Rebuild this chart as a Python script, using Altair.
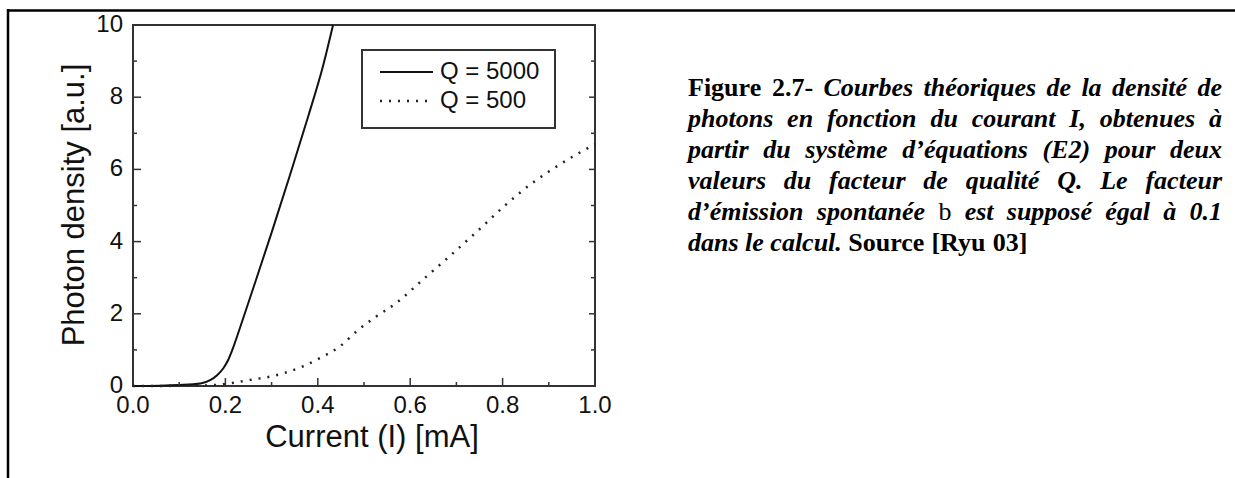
import altair as alt
import pandas as pd

# ---------------- data ----------------
x_q5000 = [0.0, 0.10, 0.146, 0.168, 0.182, 0.196, 0.206, 0.215, 0.23, 0.26, 0.30, 0.34, 0.38, 0.41, 0.433]
y_q5000 = [0.0, 0.03, 0.07, 0.17, 0.30, 0.50, 0.72, 1.0, 1.55, 2.7, 4.25, 5.85, 7.5, 8.8, 10.0]
x_q500 = [0.0, 0.15, 0.196, 0.254, 0.297, 0.325, 0.365, 0.404, 0.447, 0.487, 0.526, 0.569, 0.627, 0.684, 0.748, 0.806, 0.863, 0.928, 1.0]
y_q500 = [0.0, 0.01, 0.05, 0.17, 0.26, 0.35, 0.53, 0.77, 1.09, 1.55, 1.92, 2.29, 2.94, 3.58, 4.32, 5.01, 5.61, 6.17, 6.70]
series_names = ["Q = 5000", "Q = 500"]

x_labels = [0.0, 0.2, 0.4, 0.6, 0.8, 1.0]
y_labels = [0, 2, 4, 6, 8, 10]
x_minor = [0.1, 0.3, 0.5, 0.7, 0.9]
x_major = [0.2, 0.4, 0.6, 0.8]
y_minor = [1, 3, 5, 7, 9]
y_major = [2, 4, 6, 8]
x_title = "Current (I) [mA]"
y_title = "Photon density [a.u.]"

caption_lines = [
    [("Figure 2.7-", "b"), ("Courbes théoriques de la densité de", "bi")],
    [("photons en fonction du courant I, obtenues à", "bi")],
    [("partir du système d’équations (E2) pour deux", "bi")],
    [("valeurs du facteur de qualité Q. Le facteur", "bi")],
    [("d’émission spontanée", "bi"), ("b", "r"), ("est supposé égal à 0.1", "bi")],
    [("dans le calcul.", "bi"), ("Source [Ryu 03]", "b")],
]

# ---------------- layout ----------------
W, H = 462, 361
PAD_L, PAD_T = 133, 25
TOTAL_W, TOTAL_H = 1235, 478
SANS = "Liberation Sans"
INK = "#111"

xs = alt.Scale(domain=[0, 1], nice=False, zero=False)
ys = alt.Scale(domain=[0, 10], nice=False, zero=False)

# ---------------- caption word placement (justified) ----------------
CAP_FS = 26
CAP_LEFT = 688 - PAD_L
CAP_RIGHT = 1222 - PAD_L
CAP_Y0 = 88 - PAD_T
CAP_DY = 31

BI = {'a': 500, 'b': 500, 'c': 444, 'd': 500, 'e': 444, 'f': 333, 'g': 500, 'h': 556, 'i': 278,
      'j': 278, 'k': 500, 'l': 278, 'm': 778, 'n': 556, 'o': 500, 'p': 500, 'q': 500, 'r': 389,
      's': 389, 't': 278, 'u': 556, 'v': 444, 'w': 667, 'x': 500, 'y': 444, 'z': 389, 'é': 444,
      'è': 444, 'à': 500, '’': 333, '(': 333, ')': 333, '.': 250, ',': 250, 'E': 667, 'I': 389,
      'L': 611, 'Q': 722, 'C': 667}
B = {'F': 611, 'i': 278, 'g': 500, 'u': 556, 'r': 444, 'e': 444, '.': 250, '-': 333, 'S': 556,
     'o': 500, 'c': 444, '[': 333, 'R': 722, 'y': 500, ']': 333}
R = {'b': 500}
TABLES = {"bi": BI, "b": B, "r": R}


def word_w(word, style):
    t = TABLES[style]
    return sum(t.get(ch, 500) for ch in word) * CAP_FS / 1000.0


rows = []
for li, segs in enumerate(caption_lines):
    words = []
    for text, style in segs:
        for w in text.split(" "):
            words.append((w, style))
    widths = [word_w(w, s) for w, s in words]
    if li < len(caption_lines) - 1:
        gap = (CAP_RIGHT - CAP_LEFT - sum(widths)) / (len(words) - 1)
    else:
        gap = 250 * CAP_FS / 1000.0
    x = CAP_LEFT
    for (w, s), ww in zip(words, widths):
        rows.append({"px": x, "py": CAP_Y0 + li * CAP_DY, "word": w, "style": s})
        x += ww + gap
cap_df = pd.DataFrame(rows)

# ---------------- curves ----------------
curve_df = pd.concat([
    pd.DataFrame({"I": x_q5000, "P": y_q5000, "series": series_names[0], "o": range(len(x_q5000))}),
    pd.DataFrame({"I": x_q500, "P": y_q500, "series": series_names[1], "o": range(len(x_q500))}),
])

base = alt.Chart(curve_df)

solid = base.transform_filter(alt.datum.series == series_names[0]).mark_line(
    color=INK, strokeWidth=2, interpolate="monotone"
).encode(
    x=alt.X("I:Q", scale=xs, axis=None),
    y=alt.Y("P:Q", scale=ys, axis=None),
    order="o:Q",
)

dotted = base.transform_filter(alt.datum.series == series_names[1]).mark_line(
    color="#222", strokeWidth=2.5, strokeDash=[2, 7], interpolate="monotone"
).encode(
    x=alt.X("I:Q", scale=xs, axis=None),
    y=alt.Y("P:Q", scale=ys, axis=None),
    order="o:Q",
)

# ---------------- axis labels (through the scales) ----------------
xlab = alt.Chart(pd.DataFrame({"v": x_labels})).mark_text(
    font=SANS, fontSize=24, color=INK, align="center", baseline="middle"
).encode(x=alt.X("v:Q", scale=xs, axis=None), y=alt.value(H + 20),
         text=alt.Text("v:Q", format=".1f"))

ylab = alt.Chart(pd.DataFrame({"v": y_labels})).mark_text(
    font=SANS, fontSize=24, color=INK, align="right", baseline="middle"
).encode(y=alt.Y("v:Q", scale=ys, axis=None), x=alt.value(-10),
         text=alt.Text("v:Q", format="d"))

one = pd.DataFrame({"a": [0]})

xtitle = alt.Chart(one).mark_text(
    font=SANS, fontSize=31, color=INK, align="center", baseline="middle"
).encode(x=alt.value(239), y=alt.value(413), text=alt.value(x_title))

ytitle = alt.Chart(one).mark_text(
    font=SANS, fontSize=31, color=INK, align="center", baseline="middle", angle=270
).encode(x=alt.value(-58), y=alt.value(180), text=alt.value(y_title))

# ---------------- inward ticks ----------------
def xticks(vals, length):
    d = pd.DataFrame({"v": vals})
    return alt.Chart(d).mark_rule(color="#333", strokeWidth=1.5).encode(
        x=alt.X("v:Q", scale=xs, axis=None),
        y=alt.value(H), y2=alt.value(H - length))


def yticks(vals, length, left=True):
    d = pd.DataFrame({"v": vals})
    if left:
        return alt.Chart(d).mark_rule(color="#333", strokeWidth=1.5).encode(
            y=alt.Y("v:Q", scale=ys, axis=None), x=alt.value(0), x2=alt.value(length))
    return alt.Chart(d).mark_rule(color="#333", strokeWidth=1.5).encode(
        y=alt.Y("v:Q", scale=ys, axis=None), x=alt.value(W), x2=alt.value(W - length))


tick_layers = [
    xticks(x_major, 8), xticks(x_minor, 4),
    yticks(y_major, 8), yticks(y_minor, 4),
    yticks(y_major, 6, left=False), yticks(y_minor, 4, left=False),
]

# ---------------- legend ----------------
leg_box = alt.Chart(one).mark_rect(filled=False, stroke="#333", strokeWidth=2).encode(
    x=alt.value(229), x2=alt.value(422), y=alt.value(25), y2=alt.value(103))
leg_solid = alt.Chart(one).mark_rule(color=INK, strokeWidth=2).encode(
    x=alt.value(247), x2=alt.value(300), y=alt.value(47))
leg_dot = alt.Chart(one).mark_rule(color="#222", strokeWidth=2.5, strokeDash=[2, 7]).encode(
    x=alt.value(247), x2=alt.value(300), y=alt.value(76))
leg_text = alt.Chart(pd.DataFrame({"name": series_names, "ly": [47, 76]})).mark_text(
    font=SANS, fontSize=24, color=INK, align="left", baseline="middle"
).encode(x=alt.value(307), y=alt.Y("ly:Q", scale=None, axis=None), text="name:N")

# ---------------- frame lines ----------------
top_line = alt.Chart(one).mark_rule(color="#000", strokeWidth=2.5).encode(
    x=alt.value(7 - PAD_L), x2=alt.value(TOTAL_W - PAD_L), y=alt.value(10.5 - PAD_T))
left_line = alt.Chart(one).mark_rule(color="#000", strokeWidth=2.5).encode(
    x=alt.value(8 - PAD_L), y=alt.value(9 - PAD_T), y2=alt.value(TOTAL_H - PAD_T))

# ---------------- caption ----------------
def cap_layer(style, **kw):
    return alt.Chart(cap_df).transform_filter(alt.datum.style == style).mark_text(
        font="Liberation Serif", fontSize=CAP_FS, color="#000", align="left", baseline="middle", **kw
    ).encode(x=alt.X("px:Q", scale=None, axis=None), y=alt.Y("py:Q", scale=None, axis=None), text="word:N")


cap_bi = cap_layer("bi", fontStyle="italic", fontWeight="bold")
cap_b = cap_layer("b", fontWeight="bold")
cap_r = cap_layer("r")

chart = alt.layer(
    solid, dotted, *tick_layers, xlab, ylab, xtitle, ytitle,
    leg_box, leg_solid, leg_dot, leg_text,
    top_line, left_line, cap_bi, cap_b, cap_r
).properties(
    width=W, height=H,
    autosize=alt.AutoSizeParams(type="none"),
    padding={"left": PAD_L, "top": PAD_T, "right": TOTAL_W - PAD_L - W, "bottom": TOTAL_H - PAD_T - H},
    background="white",
).configure_view(stroke="#333", strokeWidth=2)

chart.save("out.html", embed_options={"renderer": "svg", "actions": False})
